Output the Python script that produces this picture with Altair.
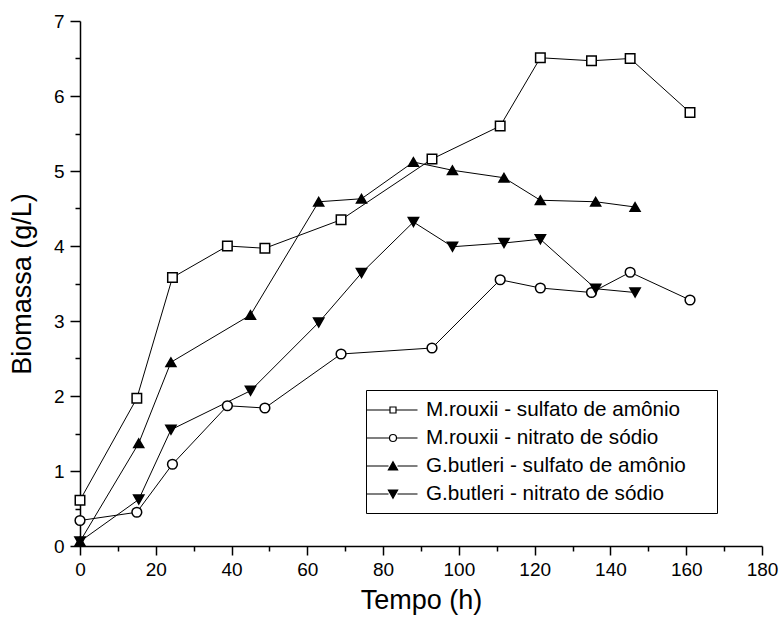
import altair as alt
import pandas as pd

series_names = [
    "M.rouxii - sulfato de amônio",
    "M.rouxii - nitrato de sódio",
    "G.butleri - sulfato de amônio",
    "G.butleri - nitrato de sódio",
]

mr_time = [0, 15, 24.4, 38.9, 48.8, 68.9, 92.9, 110.9, 121.5, 135, 145.2, 161]
mr_sulfato = [0.61, 1.97, 3.58, 4.00, 3.97, 4.35, 5.16, 5.60, 6.51, 6.47, 6.50, 5.78]
mr_nitrato = [0.34, 0.45, 1.09, 1.87, 1.84, 2.56, 2.64, 3.55, 3.44, 3.38, 3.65, 3.28]

gb_time = [0, 15.5, 24, 45, 63, 74.3, 88, 98.3, 111.9, 121.5, 136.1, 146.5]
gb_sulfato = [0.06, 1.37, 2.45, 3.08, 4.59, 4.63, 5.12, 5.01, 4.91, 4.61, 4.59, 4.52]
gb_nitrato = [0.06, 0.62, 1.55, 2.07, 2.98, 3.64, 4.32, 3.99, 4.04, 4.09, 3.43, 3.38]

x_major = [0, 20, 40, 60, 80, 100, 120, 140, 160, 180]
x_minor = [10, 30, 50, 70, 90, 110, 130, 150, 170]
y_major = [0, 1, 2, 3, 4, 5, 6, 7]
y_minor = [0.5, 1.5, 2.5, 3.5, 4.5, 5.5, 6.5]

rows = []
for name, times, vals in [
    (series_names[0], mr_time, mr_sulfato),
    (series_names[1], mr_time, mr_nitrato),
    (series_names[2], gb_time, gb_sulfato),
    (series_names[3], gb_time, gb_nitrato),
]:
    for t, v in zip(times, vals):
        rows.append({"serie": name, "tempo": t, "biomassa": v})
df = pd.DataFrame(rows)

FONT = "Liberation Sans"

x_scale = alt.Scale(domain=[0, 180], nice=False, zero=False)
y_scale = alt.Scale(domain=[0, 7], nice=False, zero=False)

common_axis = dict(
    domainColor="black", domainWidth=1.5, tickColor="black", tickWidth=1.5,
    grid=False, labelFont=FONT, labelColor="black", titleFont=FONT,
    titleColor="black", titleFontWeight="normal",
)

x_axis = alt.Axis(values=x_major, title="Tempo (h)", orient="bottom", tickSize=9,
                  labelFontSize=19, labelPadding=5, titleFontSize=27, titlePadding=8,
                  labelFlush=False, labelOverlap=False, format="d", **common_axis)
y_axis = alt.Axis(values=y_major, title="Biomassa (g/L)", orient="left", tickSize=10,
                  labelFontSize=19, labelPadding=6, titleFontSize=27, titlePadding=17,
                  labelFlush=False, labelOverlap=False, format="d", **common_axis)

x_minor_axis = alt.Axis(values=x_minor, title=None, orient="bottom", tickSize=5,
                        labels=False, domain=False, tickColor="black", tickWidth=1.5, grid=False)
y_minor_axis = alt.Axis(values=y_minor, title=None, orient="left", tickSize=5,
                        labels=False, domain=False, tickColor="black", tickWidth=1.5, grid=False)

base = alt.Chart(df)

lines = base.mark_line(color="black", strokeWidth=1).encode(
    x=alt.X("tempo:Q", scale=x_scale, axis=x_axis),
    y=alt.Y("biomassa:Q", scale=y_scale, axis=y_axis),
    detail="serie:N",
    order="tempo:Q",
)

points = base.mark_point(filled=True, stroke="black", strokeWidth=1.5, opacity=1).encode(
    x=alt.X("tempo:Q", scale=x_scale, axis=None),
    y=alt.Y("biomassa:Q", scale=y_scale, axis=None),
    shape=alt.Shape("serie:N", scale=alt.Scale(domain=series_names,
                    range=["square", "circle", "triangle-up", "triangle-down"]), legend=None),
    fill=alt.Fill("serie:N", scale=alt.Scale(domain=series_names,
                  range=["white", "white", "black", "black"]), legend=None),
    size=alt.Size("serie:N", scale=alt.Scale(domain=series_names,
                  range=[90, 105, 150, 150]), legend=None),
)

legend_paths = [
    "M-2.6,0H-0.3M0.3,0H2.45M-0.3,-0.3H0.3V0.3H-0.3Z",
    "M-2.6,0H-0.35M0.35,0H2.45M-0.35,0A0.35,0.35,0,1,0,0.35,0A0.35,0.35,0,1,0,-0.35,0Z",
    "M-2.6,0H-0.45M0.45,0H2.45M0,-0.42L0.46,0.4L-0.46,0.4Z",
    "M-2.6,0H-0.45M0.45,0H2.45M0,0.42L0.46,-0.4L-0.46,-0.4Z",
]

def make_legend():
    return alt.Legend(
        title=".", titleOrient="right", titleOpacity=0, titleFontSize=10,
        titlePadding=19, titleFont=FONT,
        orient="none", legendX=286, legendY=369,
        padding=9, strokeColor="black", fillColor="white",
        labelFont=FONT, labelFontSize=20.7, labelColor="black", labelLimit=600,
        symbolSize=400, symbolOffset=7, labelOffset=22,
        symbolOpacity=1, symbolStrokeColor="black", symbolStrokeWidth=1.2,
        rowPadding=7,
    )

legend_layer = base.mark_point(filled=True, strokeWidth=1, opacity=0).encode(
    x=alt.X("tempo:Q", scale=x_scale, axis=x_minor_axis),
    y=alt.Y("biomassa:Q", scale=y_scale, axis=y_minor_axis),
    shape=alt.Shape("serie:N", scale=alt.Scale(domain=series_names, range=legend_paths),
                    legend=make_legend()),
    fill=alt.Fill("serie:N", scale=alt.Scale(domain=series_names,
                  range=["white", "white", "black", "black"]), legend=make_legend()),
    stroke=alt.Stroke("serie:N", scale=alt.Scale(domain=series_names,
                      range=["black", "black", "black", "black"]), legend=make_legend()),
)

chart = alt.layer(lines, points, legend_layer).resolve_scale(
    shape="independent", fill="independent", stroke="independent"
).resolve_axis(
    x="independent", y="independent"
).properties(
    width=682, height=525,
    padding={"left": 80, "top": 21, "right": 19, "bottom": 81},
    autosize="none",
    background="white",
).configure_view(stroke=None)

chart.save("out.html", embed_options={"renderer": "svg", "actions": False})
